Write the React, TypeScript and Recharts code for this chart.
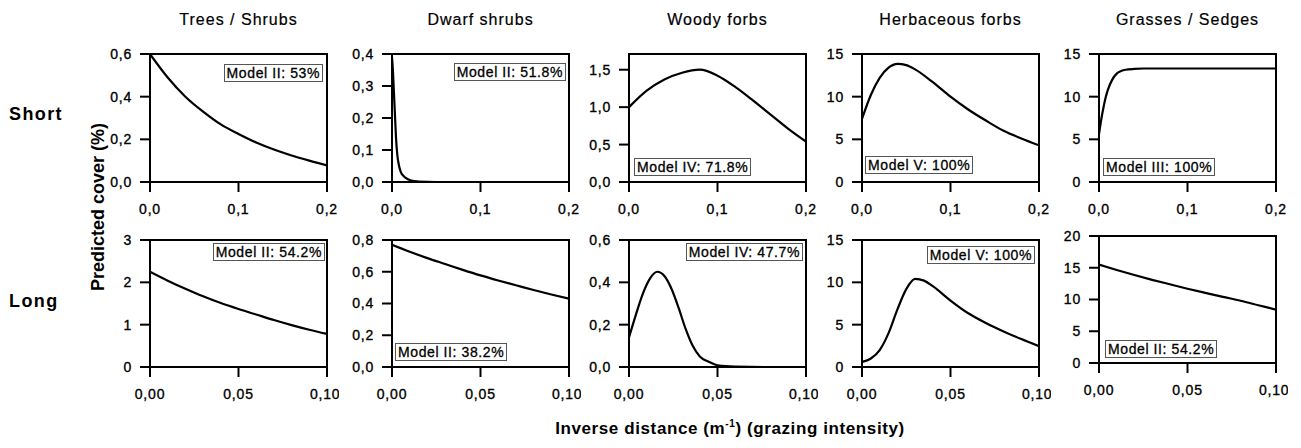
import React from 'react';
import { LineChart, Line, XAxis, YAxis, ReferenceArea } from 'recharts';

// Panel headings
const groups = ['Trees / Shrubs', 'Dwarf shrubs', 'Woody forbs', 'Herbaceous forbs', 'Grasses / Sedges'];
const grazing = ['Short', 'Long'];

// x ticks per row
const shortXTicks = [0, 0.1, 0.2];
const longXTicks = [0, 0.05, 0.1];

// Short row curves
const treesShortX = [0, 0.02, 0.04, 0.06, 0.08, 0.1, 0.12, 0.14, 0.16, 0.18, 0.2];
const treesShortY = [0.6, 0.49, 0.4, 0.33, 0.27, 0.225, 0.185, 0.152, 0.124, 0.1, 0.078];

const dwarfShortX = [0, 0.001, 0.002, 0.003, 0.0045, 0.006, 0.008, 0.01, 0.013, 0.016, 0.02, 0.025, 0.03, 0.05, 0.1, 0.2];
const dwarfShortY = [0.39, 0.35, 0.29, 0.23, 0.14, 0.085, 0.05, 0.031, 0.019, 0.012, 0.006, 0.003, 0.001, 0, 0, 0];

const woodyShortX = [0, 0.02, 0.04, 0.06, 0.08, 0.1, 0.12, 0.14, 0.16, 0.18, 0.2];
const woodyShortY = [1.0, 1.22, 1.37, 1.46, 1.5, 1.42, 1.27, 1.09, 0.9, 0.71, 0.54];

const herbShortX = [0, 0.01, 0.02, 0.03, 0.04, 0.05, 0.06, 0.08, 0.1, 0.12, 0.14, 0.16, 0.18, 0.2];
const herbShortY = [7.4, 10.2, 12.2, 13.4, 13.85, 13.7, 13.2, 11.7, 10.0, 8.5, 7.2, 6.0, 5.1, 4.3];

const grassShortX = [0, 0.0025, 0.005, 0.0075, 0.01, 0.015, 0.02, 0.025, 0.03, 0.04, 0.05, 0.1, 0.15, 0.2];
const grassShortY = [5.6, 7.3, 8.7, 9.9, 10.8, 12.0, 12.7, 13.0, 13.15, 13.25, 13.3, 13.3, 13.3, 13.3];

// Long row curves
const treesLongX = [0, 0.01, 0.02, 0.03, 0.04, 0.05, 0.06, 0.07, 0.08, 0.09, 0.1];
const treesLongY = [2.25, 2.04, 1.85, 1.67, 1.51, 1.37, 1.24, 1.11, 0.99, 0.88, 0.78];

const dwarfLongX = [0, 0.01, 0.02, 0.03, 0.04, 0.05, 0.06, 0.07, 0.08, 0.09, 0.1];
const dwarfLongY = [0.77, 0.726, 0.686, 0.649, 0.612, 0.577, 0.545, 0.515, 0.485, 0.457, 0.43];

const woodyLongX = [0, 0.004, 0.008, 0.012, 0.016, 0.02, 0.024, 0.028, 0.032, 0.036, 0.04, 0.045, 0.05, 0.06, 0.08, 0.1];
const woodyLongY = [0.14, 0.25, 0.35, 0.42, 0.45, 0.43, 0.37, 0.28, 0.18, 0.1, 0.05, 0.025, 0.008, 0.002, 0, 0];

const herbLongX = [0, 0.005, 0.01, 0.015, 0.02, 0.025, 0.03, 0.035, 0.04, 0.05, 0.06, 0.07, 0.08, 0.09, 0.1];
const herbLongY = [0.6, 1.0, 2.0, 4.0, 6.8, 9.2, 10.4, 10.2, 9.55, 7.85, 6.35, 5.2, 4.2, 3.3, 2.45];

const grassLongX = [0, 0.01, 0.02, 0.03, 0.04, 0.05, 0.06, 0.07, 0.08, 0.09, 0.1];
const grassLongY = [15.5, 14.65, 13.85, 13.1, 12.4, 11.7, 11.05, 10.42, 9.8, 9.1, 8.4];

// y axis ticks and tick decimals
const yTicksShort = [[0, 0.2, 0.4, 0.6], [0, 0.1, 0.2, 0.3, 0.4], [0, 0.5, 1, 1.5], [0, 5, 10, 15], [0, 5, 10, 15]];
const yTicksLong = [[0, 1, 2, 3], [0, 0.2, 0.4, 0.6, 0.8], [0, 0.2, 0.4, 0.6], [0, 5, 10, 15], [0, 5, 10, 15, 20]];
const yDecShort = [1, 1, 1, 0, 0];
const yDecLong = [0, 1, 1, 0, 0];
const yMaxShort = [0.6, 0.4, 1.71, 15, 15];
const yMaxLong = [3, 0.8, 0.6, 15, 20];

const modelsShort = ['Model II: 53%', 'Model II: 51.8%', 'Model IV: 71.8%', 'Model V: 100%', 'Model III: 100%'];
const modelsLong = ['Model II: 54.2%', 'Model II: 38.2%', 'Model IV: 47.7%', 'Model V: 100%', 'Model II: 54.2%'];

const curves = [
  [[treesShortX, treesShortY], [dwarfShortX, dwarfShortY], [woodyShortX, woodyShortY], [herbShortX, herbShortY], [grassShortX, grassShortY]],
  [[treesLongX, treesLongY], [dwarfLongX, dwarfLongY], [woodyLongX, woodyLongY], [herbLongX, herbLongY], [grassLongX, grassLongY]],
];

// layout
const FONT = '"Liberation Sans", Arial, Helvetica, sans-serif';
const PLOT_W = 177;
const PLOT_H = 128;
const colLeft = [150, 392, 629, 862, 1099];
const rowTop = [54, 240];
const YW = 50;
const MT = 8;
const MR = 12;
const XH = 40;

// model box placement: [side, edge x, top]
const boxPos = [
  [['r', 323, 64], ['r', 566, 63], ['l', 634, 158], ['l', 865, 156], ['l', 1103, 158]],
  [['r', 325, 243], ['l', 395, 343], ['r', 803, 243], ['r', 1035, 246], ['l', 1105, 340]],
];

const fmt = (v: number, d: number) => v.toFixed(d).replace('.', ',');

const tickStyle = { fontSize: 14, fill: '#000', stroke: '#000', strokeWidth: 0.35, fontFamily: FONT, letterSpacing: 0.8 };

const Panel = ({ row, col }: { row: number; col: number }) => {
  const [xs, ys] = curves[row][col];
  const data = xs.map((x, i) => ({ x, y: ys[i] }));
  const xMax = row === 0 ? 0.2 : 0.1;
  const xTicks = row === 0 ? shortXTicks : longXTicks;
  const yTicks = row === 0 ? yTicksShort[col] : yTicksLong[col];
  const yMax = row === 0 ? yMaxShort[col] : yMaxLong[col];
  const yDec = row === 0 ? yDecShort[col] : yDecLong[col];
  const dy = row === 1 && col === 4 ? -4 : 0;
  const h = row === 0 ? PLOT_H : PLOT_H - 1;
  return (
    <div style={{ position: 'absolute', left: colLeft[col] - YW, top: rowTop[row] + dy - MT }}>
      <LineChart width={YW + PLOT_W + MR} height={MT + h + XH} data={data} margin={{ top: MT, right: MR, bottom: 0, left: 0 }}>
        <XAxis
          dataKey="x"
          type="number"
          domain={[0, xMax]}
          ticks={xTicks}
          tickFormatter={(v) => fmt(v, row === 0 ? 1 : 2)}
          height={XH}
          tickSize={10}
          tickMargin={12}
          axisLine={{ stroke: '#000', strokeWidth: 2 }}
          tickLine={{ stroke: '#000', strokeWidth: 2 }}
          tick={tickStyle}
          allowDataOverflow
        />
        <YAxis
          type="number"
          domain={[0, yMax]}
          ticks={yTicks}
          tickFormatter={(v) => fmt(v, yDec)}
          width={YW}
          tickSize={10}
          tickMargin={8}
          axisLine={{ stroke: '#000', strokeWidth: 2 }}
          tickLine={{ stroke: '#000', strokeWidth: 2 }}
          tick={tickStyle}
          allowDataOverflow
        />
        <ReferenceArea x1={0} x2={xMax} y1={0} y2={yMax} fill="#fff" fillOpacity={0} stroke="#000" strokeWidth={2} />
        <Line dataKey="y" type="monotone" stroke="#000" strokeWidth={2.2} dot={false} isAnimationActive={false} />
      </LineChart>
    </div>
  );
};

const ModelBox = ({ row, col }: { row: number; col: number }) => {
  const [side, ex, top] = boxPos[row][col] as [string, number, number];
  const text = row === 0 ? modelsShort[col] : modelsLong[col];
  const pos = side === 'r' ? { right: 1301 - ex } : { left: ex };
  return (
    <div
      style={{
        position: 'absolute',
        top,
        ...pos,
        border: '1px solid #555',
        background: '#fff',
        fontFamily: FONT,
        fontSize: 14,
        letterSpacing: 0.6,
        lineHeight: '16px',
        padding: '0 2px',
        color: '#000',
        WebkitTextStroke: '0.3px #000',
        whiteSpace: 'nowrap',
        zIndex: 2,
      }}
    >
      {text}
    </div>
  );
};

export default function App() {
  return (
    <div style={{ position: 'absolute', left: 0, top: 0, width: 1301, height: 448, background: '#fff', fontFamily: FONT, overflow: 'hidden' }}>
      {groups.map((g, i) => (
        <div
          key={g}
          style={{ position: 'absolute', left: colLeft[i] + PLOT_W / 2 - 100, width: 200, top: 11, textAlign: 'center', fontSize: 16, letterSpacing: 1, color: '#000', WebkitTextStroke: '0.2px #000' }}
        >
          {g}
        </div>
      ))}
      {grazing.map((g, i) => (
        <div key={g} style={{ position: 'absolute', left: 9, top: i === 0 ? 104 : 291, fontSize: 18, fontWeight: 'bold', letterSpacing: 1.4, color: '#000' }}>
          {g}
        </div>
      ))}
      <div
        style={{
          position: 'absolute',
          left: 98 - 120,
          top: 207 - 11,
          width: 240,
          height: 22,
          lineHeight: '22px',
          textAlign: 'center',
          transform: 'rotate(-90deg)',
          fontSize: 18,
          fontWeight: 'bold',
          color: '#000',
        }}
      >
        Predicted cover (%)
      </div>
      <div style={{ position: 'absolute', left: 430, width: 600, top: 418, textAlign: 'center', fontSize: 17, fontWeight: 'bold', letterSpacing: 0.6, color: '#000' }}>
        Inverse distance (m<sup style={{ fontSize: 10 }}>-1</sup>) (grazing intensity)
      </div>
      {[0, 1].map((r) => groups.map((_, c) => <Panel key={`p${r}${c}`} row={r} col={c} />))}
      {[0, 1].map((r) => groups.map((_, c) => <ModelBox key={`m${r}${c}`} row={r} col={c} />))}
    </div>
  );
}
